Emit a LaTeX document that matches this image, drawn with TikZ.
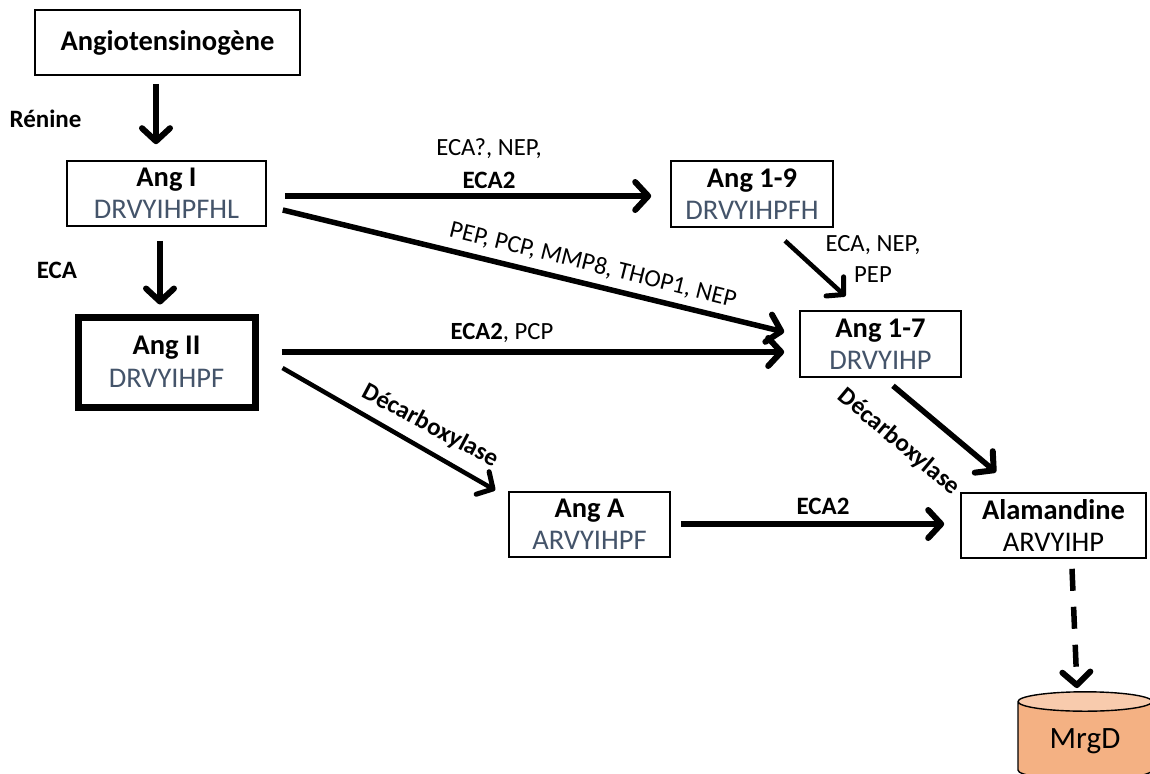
\documentclass[tikz,border=0pt]{standalone}
\usepackage{fontspec}
\setmainfont{Carlito}
\usetikzlibrary{arrows.meta,calc,shapes.geometric}
\definecolor{slate}{HTML}{44546A}
\definecolor{cylbody}{HTML}{F4B183}
\definecolor{cyltop}{HTML}{F8CBAD}
\newcommand{\fs}[1]{\fontsize{#1}{#1}\selectfont}
\tikzset{
  box/.style={draw=black,line width=1.6pt,fill=white,inner sep=0pt,align=center,font=\fs{28.5}},
  arr/.style={line width=5.5pt,-{Straight Barb[length=13pt,width=28pt,line width=6pt,round]}},
  thinarr/.style={line width=4.5pt,-{Straight Barb[length=12pt,width=26pt,line width=5pt,round]}},
  lab/.style={inner sep=0pt,font=\fs{24.7},align=center},
  blab/.style={inner sep=0pt,font=\fs{25}\bfseries,align=center},
}
\newcommand{\twolines}[3]{\textbf{#1}\\[4pt]{\color{#3}#2}}
\begin{document}
\begin{tikzpicture}[x=1pt,y=-1pt]
\useasboundingbox (0,0) rectangle (1150,773);
\node[box,minimum width=265pt,minimum height=65pt,font=\fs{28.5}\bfseries] (agt) at (167.5,42.5) {Angiotensinogène};
\node[box,minimum width=199pt,minimum height=65pt] (a1) at (166.5,193.5) {\twolines{Ang I}{DRVYIHPFHL}{slate}};
\node[box,line width=7pt,minimum width=177pt,minimum height=90pt] (a2) at (166.5,362) {\twolines{Ang II}{DRVYIHPF}{slate}};
\node[box,minimum width=162pt,minimum height=66pt] (a19) at (752,194) {\twolines{Ang 1-9}{DRVYIHPFH}{slate}};
\node[box,minimum width=161pt,minimum height=66pt] (a17) at (880.5,344) {\twolines{Ang 1-7}{DRVYIHP}{slate}};
\node[box,minimum width=161pt,minimum height=65pt] (aa) at (589.5,524.5) {\twolines{Ang A}{ARVYIHPF}{slate}};
\node[box,minimum width=185pt,minimum height=65pt] (ala) at (1053.5,525.5) {\twolines{Alamandine}{ARVYIHP}{black}};
\node[cylinder,shape border rotate=90,draw=black,line width=1.4pt,cylinder uses custom fill,cylinder body fill=cylbody,cylinder end fill=cyltop,aspect=0.275,minimum width=134pt,minimum height=88pt,inner sep=0pt,font=\fs{31}] (mrgd) at (1085,741) {MrgD};

\draw[arr] ($(agt.south)+(-11.5,8)$) -- ($(a1.north)+(-10.5,-16)$);
\draw[arr] ($(a1.south)+(-6.5,14)$) -- ($(a2.north)+(-6.5,-9)$);
\draw[arr] ($(a1.east)+(18,2.5)$) -- ($(a19.west)+(-19,2)$);
\draw[arr] ($(a1.east)+(16,16.5)$) -- ($(a17.west)+(-15,-12)$);
\draw[arr] ($(a2.east)+(23,-10)$) -- ($(a17.west)+(-15,8)$);
\draw[thinarr] ($(a2.east)+(24,6)$) -- ($(aa.north west)+(-13,-1)$);
\draw[arr] ($(aa.east)+(10,-.5)$) -- ($(ala.west)+(-16,-1.5)$);
\draw[thinarr] ($(a19.south)+(33,13)$) -- ($(a17.north)+(-35,-14)$);
\draw[arr] ($(a17.south)+(12.5,8)$) -- ($(ala.north)+(-57.5,-20)$);
\draw[arr,dash pattern=on 22pt off 16pt] ($(ala.south)+(18.5,10)$) -- ($(mrgd.north)+(-8,-3)$);

\node[blab] (renine) at (45.5,119) {Rénine};
\node[blab] (eca) at (57,270) {ECA};
\node[lab] (l1) at (489,149) {ECA?, NEP,};
\node[blab] (l2) at (489,180) {ECA2};
\node[lab,rotate=-14] (l3) at (593,265) {PEP, PCP, MMP8, THOP1, NEP};
\node[lab] (l4) at (502,333) {\textbf{ECA2}, PCP};
\node[blab,rotate=-28] (l5) at (430,426) {Décarboxylase};
\node[blab,rotate=-40] (l6) at (899,442) {Décarboxylase};
\node[lab] (l7) at (873,245) {ECA, NEP,};
\node[lab] (l8) at (873,275) {PEP};
\node[blab] (l9) at (823,506) {ECA2};
\end{tikzpicture}
\end{document}
